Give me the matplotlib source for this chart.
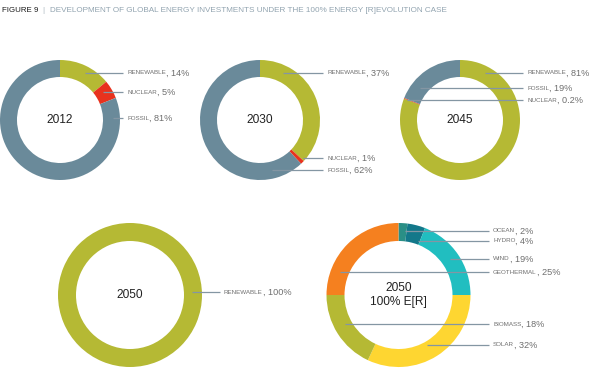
import matplotlib
matplotlib.use("Agg")
import matplotlib.pyplot as plt

W, H = 590, 376
plt.rcParams['font.family'] = ['Liberation Sans', 'DejaVu Sans']

# ---- data ----
cat3 = ["RENEWABLE", "NUCLEAR", "FOSSIL"]
v2012 = [14, 5, 81]
v2030 = [37, 1, 62]
v2045 = [80.8, 0.2, 19]
lab2045 = ["81%", "0.2%", "19%"]
cat2050 = ["RENEWABLE"]
v2050 = [100]
catER = ["OCEAN", "HYDRO", "WIND", "SOLAR", "BIOMASS", "GEOTHERMAL"]
vER = [2, 4, 19, 32, 18, 25]

C_REN = "#b5b934"
C_NUC = "#e8321e"
C_FOS = "#6a8a9a"
colER = ["#2a8f86", "#13788a", "#21bec0", "#fed631", "#b5b934", "#f5801f"]

fig = plt.figure(figsize=(W / 100, H / 100), dpi=100)
ax = fig.add_axes([0, 0, 1, 1])


def Y(y):
    return H - y


def donut(vals, cols, cx, cy, r, w, title):
    ax.pie(vals, colors=cols, center=(cx, Y(cy)), radius=r, startangle=90,
           counterclock=False, wedgeprops=dict(width=w, linewidth=0),
           frame=True)
    ax.text(cx, Y(cy), title, ha="center", va="center", fontsize=8.6,
            color="#222222", linespacing=1.25)


LINE_C = "#8496a3"


def label(x0, y, xl, name, pct):
    ax.plot([x0, xl - 4], [Y(y), Y(y)], color=LINE_C, lw=0.9, zorder=5,
            solid_capstyle="butt")
    t = ax.text(xl, Y(y), name, fontsize=4.5, color="#6f6f6f", va="center",
                ha="left")
    labels.append((t, ", " + pct, y))


labels = []

donut(v2012, [C_REN, C_NUC, C_FOS], 60, 120, 60, 17, "2012")
donut(v2030, [C_REN, C_NUC, C_FOS], 260, 120, 60, 17, "2030")
donut(v2045, [C_REN, C_NUC, C_FOS], 460, 120, 60, 17, "2045")
donut(v2050, [C_REN], 130, 295, 72, 18, "2050")
donut(vER, colER, 398.5, 295, 72, 18, "2050\n100% E[R]")

label(85, 73, 127, cat3[0], f"{v2012[0]}%")
label(103, 92, 127, cat3[1], f"{v2012[1]}%")
label(113, 118, 127, cat3[2], f"{v2012[2]}%")

label(283, 73, 327, cat3[0], f"{v2030[0]}%")
label(303, 158, 327, cat3[1], f"{v2030[1]}%")
label(272, 170, 327, cat3[2], f"{v2030[2]}%")

label(485, 73, 527, cat3[0], lab2045[0])
label(420, 88, 527, cat3[2], lab2045[2])
label(407, 100, 527, cat3[1], lab2045[1])

label(192, 292, 224, cat2050[0], f"{v2050[0]}%")

ER_pos = {"OCEAN": (405, 231), "HYDRO": (418, 241), "WIND": (450, 259),
          "GEOTHERMAL": (340, 272), "BIOMASS": (345, 324), "SOLAR": (427, 345)}
for c, v in zip(catER, vER):
    x0, yy = ER_pos[c]
    label(x0, yy, 493, c, f"{v}%")

# title
t1 = ax.text(2, Y(10), "FIGURE 9", fontsize=5.7, color="#1a1a1a",
             va="center", ha="left")
ax.set_xlim(0, W)
ax.set_ylim(0, H)
ax.set_aspect("auto")
ax.axis("off")

fig.canvas.draw()
r = fig.canvas.get_renderer()
inv = ax.transData.inverted()
for t, pct, y in labels:
    bb = t.get_window_extent(r)
    x1 = inv.transform((bb.x1, bb.y0))[0]
    ax.text(x1, Y(y), pct, fontsize=6.6, color="#6f6f6f", va="center",
            ha="left")

bb = t1.get_window_extent(r)
x1 = inv.transform((bb.x1, bb.y0))[0]
ax.text(x1 + 4, Y(10), "|", fontsize=5.7, color="#a9b5bd", va="center",
        ha="left")
ax.text(x1 + 12, Y(10),
        "DEVELOPMENT OF GLOBAL ENERGY INVESTMENTS UNDER THE 100% ENERGY [R]EVOLUTION CASE",
        fontsize=5.85, color="#92a4b0", va="center", ha="left")

fig.savefig("out.png", dpi=100)
